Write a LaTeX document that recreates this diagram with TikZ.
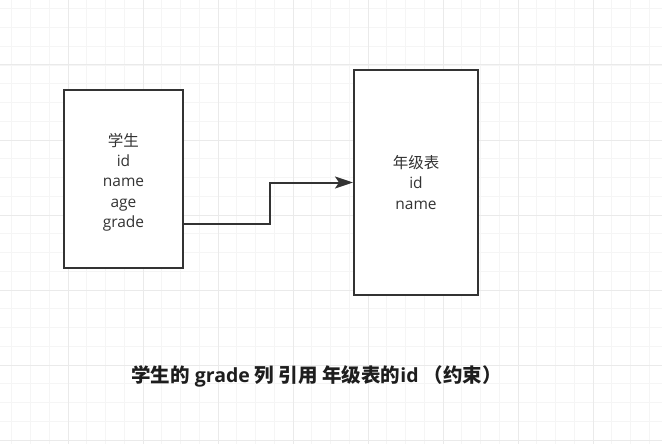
\documentclass[tikz,border=0pt]{standalone}
\usepackage{fontspec}
\setmainfont{Open Sans}
\newfontfamily\cjk{Noto Sans CJK SC}
\usetikzlibrary{arrows.meta}
\definecolor{minorgrid}{HTML}{F5F5F5}
\definecolor{majorgrid}{HTML}{EAEAEA}
\definecolor{edge}{HTML}{333333}
\definecolor{txt}{HTML}{333333}
\definecolor{captxt}{HTML}{1E1E1E}
\tikzset{
  minorline/.style={draw=minorgrid, line width=0.9pt},
  majorline/.style={draw=majorgrid, line width=1pt},
  tablebox/.style={draw=edge, line width=2pt, fill=white, align=center, text=txt,
    font=\fontsize{15.5}{20.3}\selectfont, inner sep=0pt},
  conn/.style={draw=edge, line width=2pt, -{Stealth[length=18pt,width=12pt,inset=4pt]}},
  caption/.style={text=captxt, font=\bfseries\fontsize{19.5}{22}\selectfont, inner sep=0pt}
}
\begin{document}
\begin{tikzpicture}[x=1pt,y=-1pt]
\useasboundingbox (0,0) rectangle (662,444);
\fill[white] (0,0) rectangle (662,444);
\foreach \i in {0,...,37} { \draw[minorline] ({-7+18.75*\i},0) -- ++(0,444); }
\foreach \j in {0,...,25} { \draw[minorline] (0,{-10+18.75*\j}) -- ++(662,0); }
\foreach \i in {0,...,9} { \draw[majorline] ({-7+75*\i},0) -- ++(0,444); }
\foreach \j in {0,...,6} { \draw[majorline] (0,{-10+75*\j}) -- ++(662,0); }
\node[tablebox, minimum width=119, minimum height=178] (s) at (123.5,179)
  {\mbox{}\\[-1pt]{\cjk 学生}\\id\\name\\age\\grade};
\node[tablebox, minimum width=124, minimum height=225] (t) at (416,182.5)
  {{\cjk 年级表}\\id\\name};
\draw[conn] ([yshift=-45pt]s.east) -- ++(86,0) |- (t.west);
\node[caption] (cap) at (316.5,376) {{\cjk 学生的} grade {\cjk 列 引用 年级表的}id {\cjk （约束）}};
\end{tikzpicture}
\end{document}
